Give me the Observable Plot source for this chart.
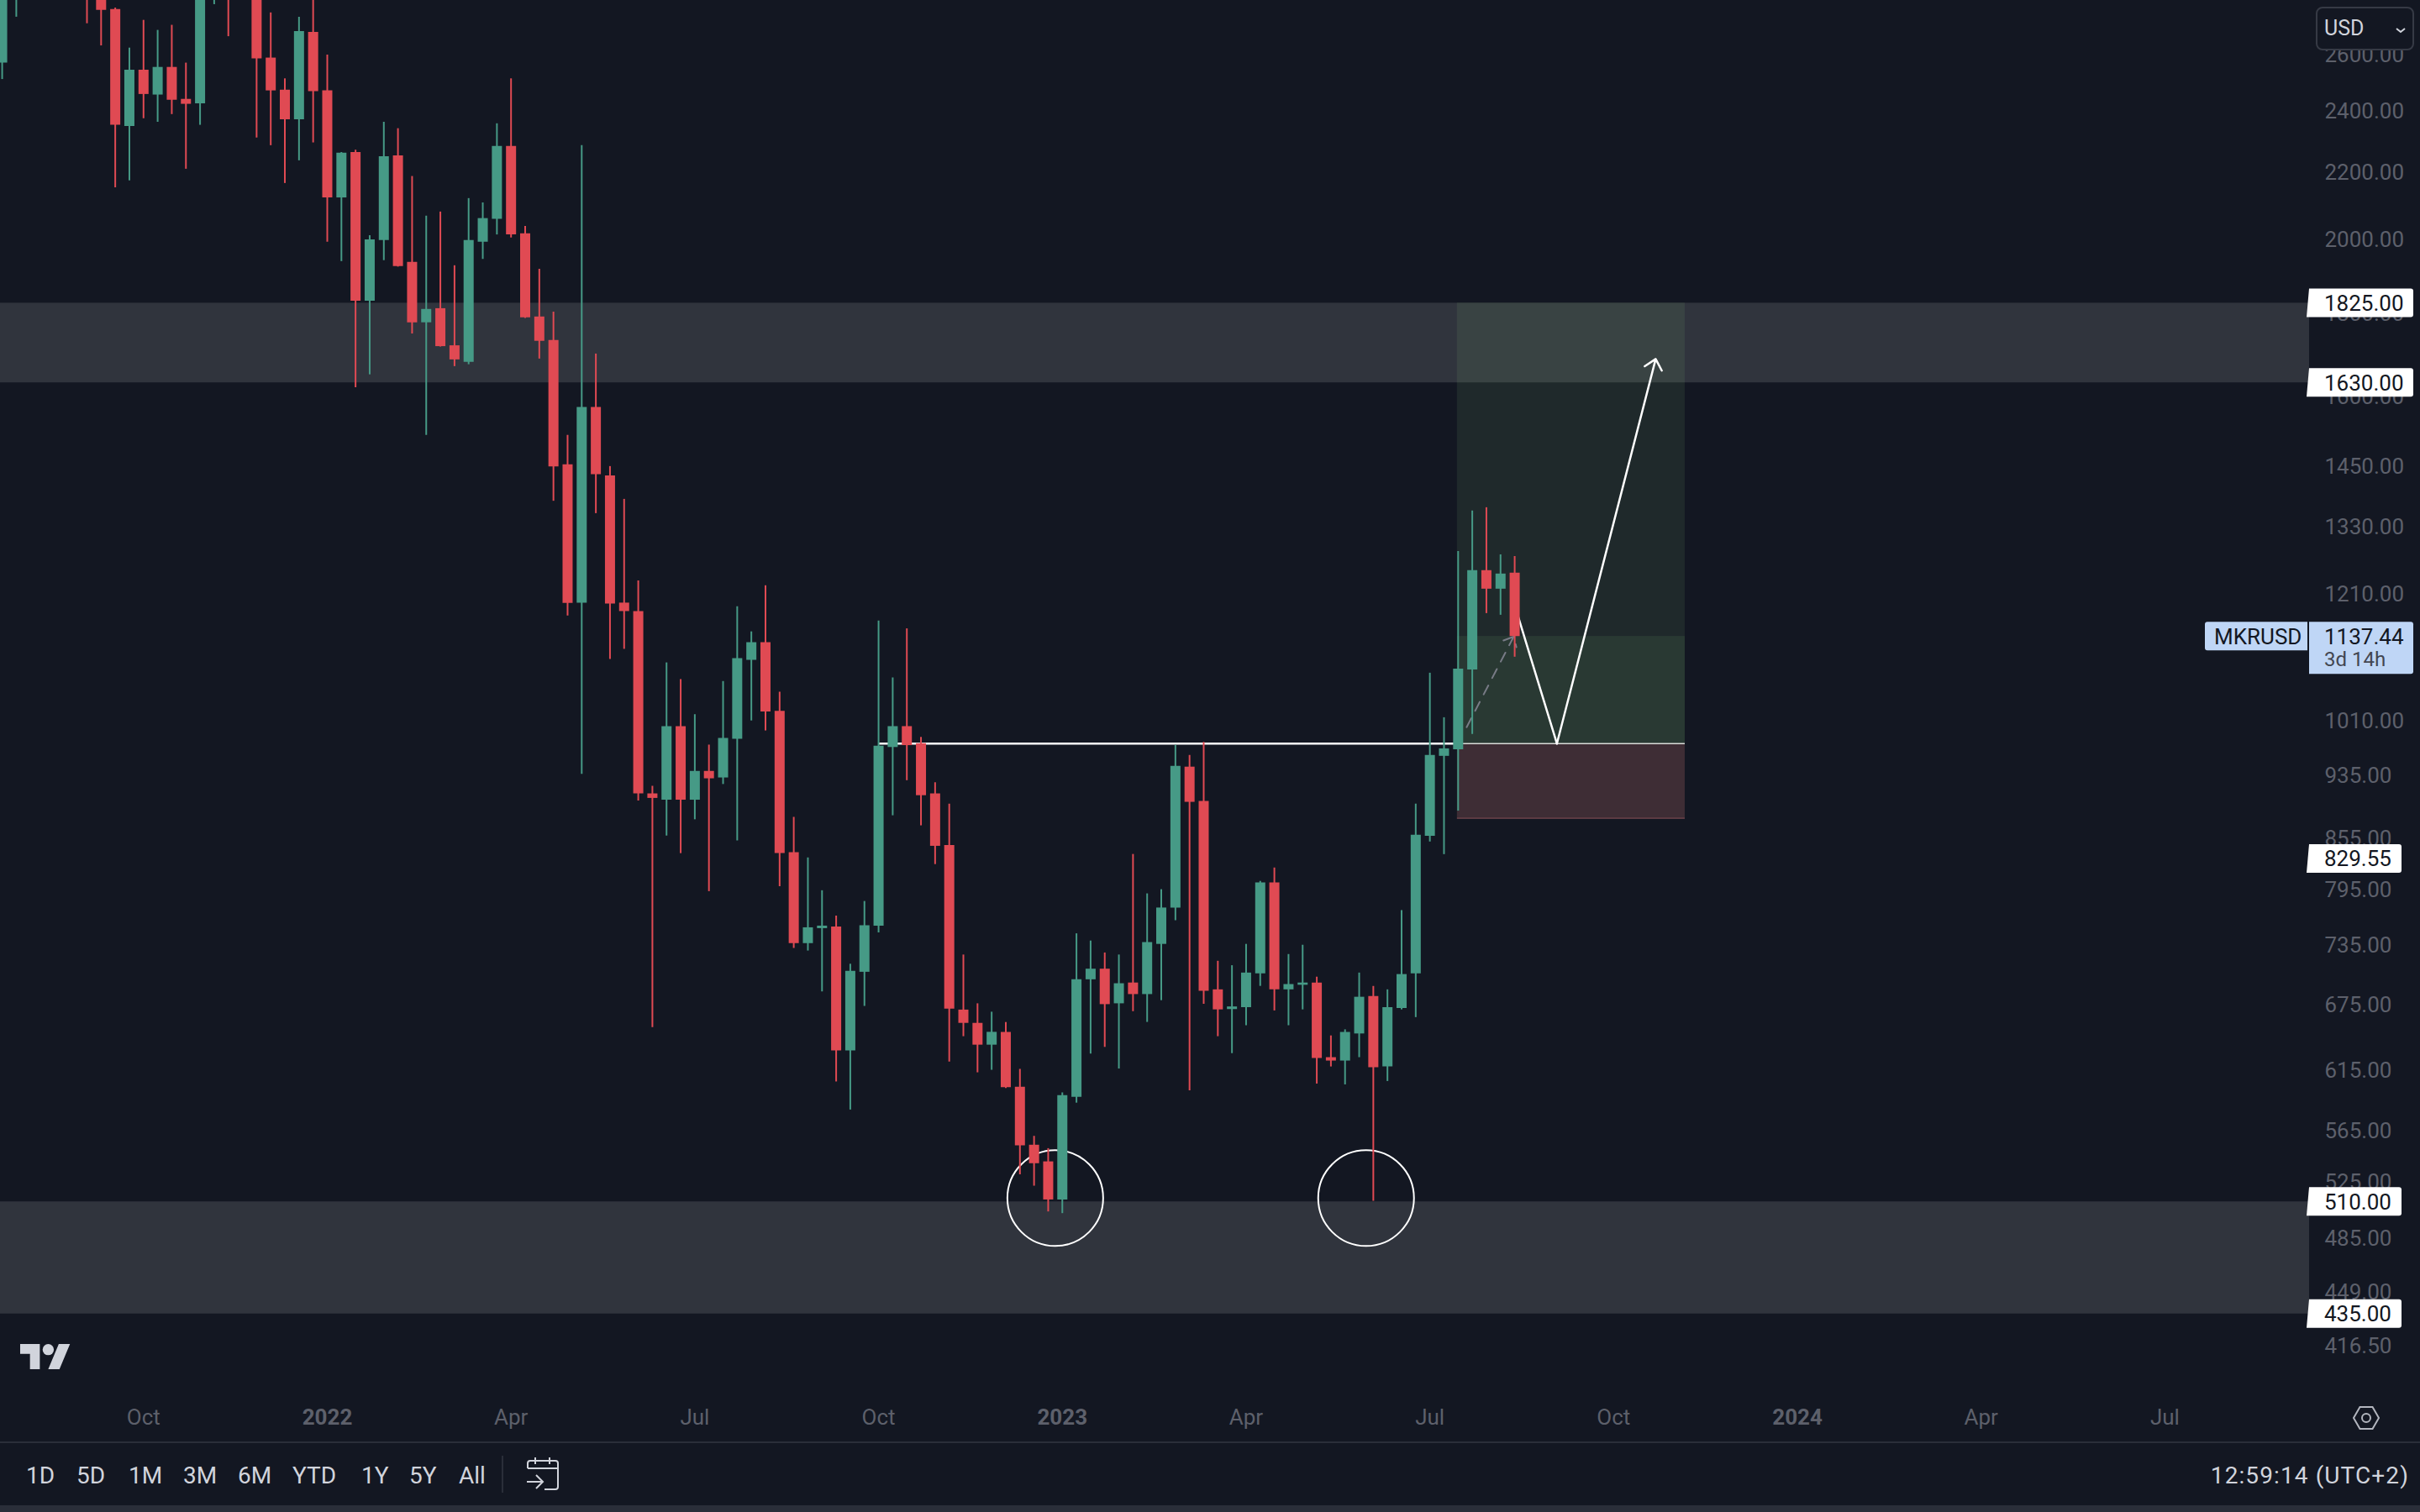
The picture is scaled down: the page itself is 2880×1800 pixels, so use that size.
<!DOCTYPE html>
<html>
<head>
<meta charset="utf-8">
<script src="https://cdn.jsdelivr.net/npm/d3@7"></script>
<script src="https://cdn.jsdelivr.net/npm/@observablehq/plot@0.6"></script>
<style>
html,body{margin:0;padding:0;background:#131722;width:2880px;height:1800px;overflow:hidden;font-family:Roboto,sans-serif}
#chart svg{display:block}
#bar{position:relative;border-top:2px solid #2a2e39;box-sizing:content-box;height:74px;color:#d1d4dc;font-size:28px;background:#131722}
#bar span{position:absolute;top:22px;line-height:34px;white-space:nowrap}
#bar i{position:absolute;left:597px;top:15px;width:2px;height:44px;background:#2a2e39}
#bar svg{position:absolute;left:624px;top:16px}
#strip{height:8px;background:#2a2e39}
</style>
</head>
<body>
<div id="chart"></div>
<div id="bar"></div>
<div id="strip"></div>
<script>
// Weekly candles, Mondays from 2021-07-26 to 2023-08-14
const firstWeek = "2021-07-26", lastWeek = "2023-08-15";
const open = [2565.6,2900,3300,3300,3100,3350,3050,2950,2768,2345,2540,2452,2550,2437,2422,2850,3000,3000,2850,2584,2469,2367.5,2680,
2466.5,2119,2260,1830,1994.5,2249,1934,1775,1810.9,1718,1678,1990,2055.5,2279.4,2014,1789.7,1731,1451,1192.6,1574,1428.6,1192.6,1178.4,909.8,901.7,1000.9,901.7,939.3,930.6,983,1099.6,1127.5,1023,836.9,735.7,751.5,753.3,631.9,706.4,754.2,971.7,1000.9,977,909.8,845.6,669.5,657,637,648.7,600,552.7,539.8,
511.4,591.5,698.9,709.5,675.5,695.7,684.4,734.9,773.8,945,900,689,670,671.8,704.9,801.9,689,693.5,695.7,625.8,622.8,647.2,682.5,617.6,671,704.9,856.8,959.6,968.7,1084.8,1248.8,1216.4,1244.3];
const high = [3300,3200,3400,3450,3500,3450,3200,3100,2774,2620.8,2726,2687.5,2707,2565.6,2950,3100,3150,3100,2950,2755,2509,2738,2850,
2595,2260,2267.5,2008.4,2359,2337.7,2184.4,2064.6,2077,1924.6,2117,2104,2354,2509,2035,1915,1802,1513,2282,1698,1447.5,1381.7,1230.6,919.7,1095.6,1070,1018,975,1067,1186.5,1144.9,1222.3,1051,880,830.8,793,765,714.5,781,1162.8,1072.5,1149.8,985.7,924.3,896.7,723.9,675.5,667.5,657.8,615.5,559.7,550,
595.3,746,738.4,726,723.9,834.9,789.5,794.2,974.6,960.7,978.7,717.5,713,734.9,803.6,819,724.4,734,701.5,645.4,651,705.6,692.4,689,771,896.7,1079.7,1013.6,1283.3,1359,1365.4,1277.1,1274];
const low = [2506.6,2738.3,2950,2950,2900,2900,2713,2629,2149.6,2171,2371,2359,2385,2207,2349,2787.6,2663.6,2830,2307,2282,2162.8,2233.6,2291,
1990,1936,1619,1648.7,1938.6,1921,1747,1513,1715,1668,1672.5,1942,2010.6,2002,1786,1686,1378,1171,935.3,1354,1101,1116.9,900.6,653,857,835.9,877,792,922,851,1009,994.8,797.6,730.7,728,687,604.6,581,673,747,882,927,869.5,823,622,644.7,612.5,614.7,599,530,521.5,502.8,
501.6,586.7,629,635,615.8,668,657.9,678.5,760,597.1,675,644.7,629.4,654.8,692.4,668.7,654.8,669.7,602.8,617.6,602.1,625.8,510.4,605,669.7,662.4,849.8,834.7,888,989.9,1175,1172.2,1104.5];
const close = [3100,3100,3050,3100,3350,3050,2850,2765,2349,2540,2454,2550,2434,2420,2850,3000,2830,2900,2581,2466.5,2367.5,2683,2463.8,
2119,2257.9,1830,1996.6,2246.8,1922.4,1775,1809,1716,1684,1994.5,2057.8,2279.4,2010.6,1787.7,1729,1447,1192,1574,1431,1191,1178.4,909.8,904,1000.9,901.7,939.3,929.5,984.3,1102.4,1127.5,1022,835.9,735.7,752.4,754.2,631.9,707.3,754.6,973.5,1000.9,974.3,907.5,844.6,670.4,657,637,648.7,599.8,552.3,538.4,511.4,
593,698.9,709.5,674.7,695,684.4,736.8,773.8,946.1,899,687.6,669.7,672.5,705.6,801.9,689,694.2,695.7,625.1,622.8,648.6,681.8,616.9,671.8,704.1,858,960.7,969.8,1086.1,1248.8,1216.4,1242.8,1137.44];

const monthTicks = ["2021-10-04","2022-04-04","2022-07-04","2022-10-03","2023-04-03","2023-07-03","2023-10-02","2024-04-01","2024-07-01"];
const monthNames = ["Oct","Apr","Jul","Oct","Apr","Jul","Oct","Apr","Jul"];
const yearTicks = ["2022-01-03","2023-01-02","2024-01-01"];
const yearNames = ["2022","2023","2024"];
// 2600, 1800, 1600 and 1110 sit behind the box and the badges, as in the reference
const priceTicks = [2600,2400,2200,2000,1800,1600,1450,1330,1210,1010,935,855,795,735,675,615,565,525,485,449,416.5];
const zones = [{lo:1630,hi:1825},{lo:435,hi:510}];
const priceBadges = [1825,1630,829.55,510,435];
const lastPrice = 1137.44;
const entryPrice = 977, stopPrice = 879, targetPrice = 1825.5;
const positionStart = "2023-07-16T14:24Z", positionEnd = "2023-11-06T10:00Z";
const necklineStart = "2022-10-03T10:00Z";
const pathDown = [{t:"2023-08-14",p:1189},{t:"2023-09-03T22:00Z",p:977}];
const pathUp = [{x1:"2023-09-03T22:00Z",y1:977,x2:"2023-10-22T20:00Z",y2:1686}];
const dashed = [{x1:"2023-07-21T05:00Z",y1:1000,x2:"2023-08-13T12:00Z",y2:1137}];
const circles = [{t:"2022-12-29T12:00Z",p:512.7},{t:"2023-06-01T10:00Z",p:512.7}];
const toolbar = [["1D",31],["5D",91],["1M",153],["3M",218],["6M",283],["YTD",348],["1Y",430],["5Y",487],["All",546]];

const GREEN="#469a86", RED="#e04a53";
const D = s => new Date(s);
const weeks = d3.utcMonday.range(D(firstWeek), D(lastWeek));
const candles = weeks.map((t,i)=>({t,o:open[i],h:high[i],l:low[i],c:close[i]}));
const col = d => d.c>=d.o?GREEN:RED;
const xDomain=[D("2021-07-25T03:22Z"),D("2024-09-10T14:24Z")];
const yDomain=[392.5,2804];
const fmt=d3.format(".2f");

const chart = Plot.plot({
  width:2880,height:1716,marginLeft:0,marginRight:132,marginTop:0,marginBottom:66,
  style:{background:"#131722",fontFamily:"Roboto, sans-serif",overflow:"visible"},
  x:{type:"utc",domain:xDomain},
  y:{type:"log",domain:yDomain},
  marks:[
    Plot.axisY({anchor:"right",ticks:priceTicks,tickFormat:fmt,tickSize:0,tickPadding:18,fontSize:26,color:"#5d606b",label:null,dy:1.5}),
    Plot.axisX({ticks:monthTicks.map(D),tickFormat:(d,i)=>monthNames[i],tickSize:0,tickPadding:27,fontSize:26,color:"#5d606b",label:null}),
    Plot.axisX({ticks:yearTicks.map(D),tickFormat:(d,i)=>yearNames[i],tickSize:0,tickPadding:27,fontSize:26,fontWeight:"bold",color:"#5d606b",label:null}),
    Plot.rect(zones,{x1:()=>xDomain[0],x2:()=>xDomain[1],y1:"lo",y2:"hi",fill:"#fff",fillOpacity:.125}),
    Plot.rect([0],{x1:()=>D(positionStart),x2:()=>D(positionEnd),y1:()=>entryPrice,y2:()=>targetPrice,fill:"rgb(139,203,124)",fillOpacity:.1}),
    Plot.rect([0],{x1:()=>D(positionStart),x2:()=>D(positionEnd),y1:()=>entryPrice,y2:()=>lastPrice,fill:"rgb(139,203,124)",fillOpacity:.1}),
    Plot.rect([0],{x1:()=>D(positionStart),x2:()=>D(positionEnd),y1:()=>stopPrice,y2:()=>entryPrice,fill:"rgb(234,133,129)",fillOpacity:.2}),
    Plot.ruleY([stopPrice],{x1:()=>D(positionStart),x2:()=>D(positionEnd),stroke:"#5b3a42",strokeWidth:2}),
    Plot.ruleY([entryPrice],{x1:()=>D(positionStart),x2:()=>D(positionEnd),stroke:"#d8dcd8",strokeWidth:1.5}),
    Plot.ruleY([entryPrice],{x1:()=>D(necklineStart),x2:()=>D(positionStart),stroke:"#fff",strokeWidth:2.5}),
    Plot.line(pathDown,{x:d=>D(d.t),y:"p",stroke:"#fff",strokeWidth:2.5}),
    Plot.arrow(pathUp,{x1:d=>D(d.x1),y1:"y1",x2:d=>D(d.x2),y2:"y2",stroke:"#fff",strokeWidth:2.5,headLength:9.4,headAngle:84}),
    Plot.arrow(dashed,{x1:d=>D(d.x1),y1:"y1",x2:d=>D(d.x2),y2:"y2",stroke:"#787b86",strokeWidth:2,headLength:9.7,headAngle:84,strokeDasharray:"12 10"}),
    Plot.dot(circles,{x:d=>D(d.t),y:"p",r:57,stroke:"#fff",strokeWidth:2,fill:"none"}),
    Plot.ruleX(candles,{x:"t",y1:"l",y2:"h",stroke:col,strokeWidth:2,clip:true}),
    Plot.ruleX(candles,{x:"t",y1:"o",y2:"c",stroke:col,strokeWidth:12,clip:true})
  ]
});
document.getElementById("chart").appendChild(chart);

// price scale badges, placed through the chart's own y scale
const yS = chart.scale("y");
const svg = d3.select(chart);
const g = svg.append("g").attr("font-size",26).attr("font-family","Roboto, sans-serif").attr("text-anchor","start");
function rightBadge(y,h,w,fill){
  const r=3,x=2748;
  g.append("path").attr("d",`M${x},${y-h/2}h${w-r}a${r},${r} 0 0 1 ${r},${r}v${h-2*r}a${r},${r} 0 0 1 -${r},${r}h-${w}z`).attr("fill",fill);
}
for(const p of priceBadges){
  const y=yS.apply(p), s=fmt(p);
  rightBadge(y,34,s.length>6?124:110,"#fff");
  g.append("text").attr("x",2766).attr("y",y).attr("dy","0.36em").attr("fill","#131722").text(s);
}
{
  const y=yS.apply(lastPrice);
  g.append("path").attr("d",`M2748,${y-17}h121a3,3 0 0 1 3,3v56a3,3 0 0 1 -3,3h-121z`).attr("fill","#bfd6f6");
  g.append("path").attr("d",`M2746,${y-17}v34h-119a3,3 0 0 1 -3,-3v-28a3,3 0 0 1 3,-3z`).attr("fill","#bfd6f6");
  g.append("text").attr("x",2635).attr("y",y).attr("dy","0.36em").attr("fill","#131722").text("MKRUSD");
  g.append("text").attr("x",2766).attr("y",y).attr("dy","0.36em").attr("fill","#131722").text(fmt(lastPrice));
  g.append("text").attr("x",2766).attr("y",y+27).attr("dy","0.36em").attr("fill","#434651").attr("font-size",24).text("3d 14h");
}
// currency box
g.append("rect").attr("x",2757).attr("y",9).attr("width",115).attr("height",50).attr("rx",7).attr("fill","#131722").attr("stroke","#363a45").attr("stroke-width",2);
g.append("text").attr("x",2766).attr("y",33).attr("dy","0.36em").attr("font-size",25).attr("fill","#d1d4dc").text("USD");
g.append("path").attr("d","M2852,34l5,4l5,-4").attr("fill","none").attr("stroke","#d1d4dc").attr("stroke-width",2);
// settings icon
g.append("path").attr("d","M2801,1688l7.5,-13h15l7.5,13l-7.5,13h-15z").attr("fill","none").attr("stroke","#b2b5be").attr("stroke-width",2);
g.append("circle").attr("cx",2816).attr("cy",1688).attr("r",5).attr("fill","none").attr("stroke","#b2b5be").attr("stroke-width",2);
// logo
const logo=g.append("g").attr("transform","translate(24,1593.3) scale(1.67)").attr("fill","#d1d4dc");
logo.append("path").attr("d","M14 22H7V11H0V4h14v18zM28 22h-8l7.5-18h8L28 22z");
logo.append("circle").attr("cx",20).attr("cy",8).attr("r",4);

// toolbar under the chart
const bar=d3.select("#bar");
for(const [t,x] of toolbar) bar.append("span").style("left",x+"px").text(t);
bar.append("i");
bar.append("span").style("right","13px").style("letter-spacing","1.1px").text("12:59:14 (UTC+2)");
bar.append("svg").attr("width",44).attr("height",42).html('<path d="M4 14V8a3 3 0 0 1 3-3h30a3 3 0 0 1 3 3v28a3 3 0 0 1-3 3H24M4 14h36M13 1v8M30 1v8M3 30h18M14 22l8 8-8 8" fill="none" stroke="#d1d4dc" stroke-width="2"/>');
</script>
</body>
</html>
